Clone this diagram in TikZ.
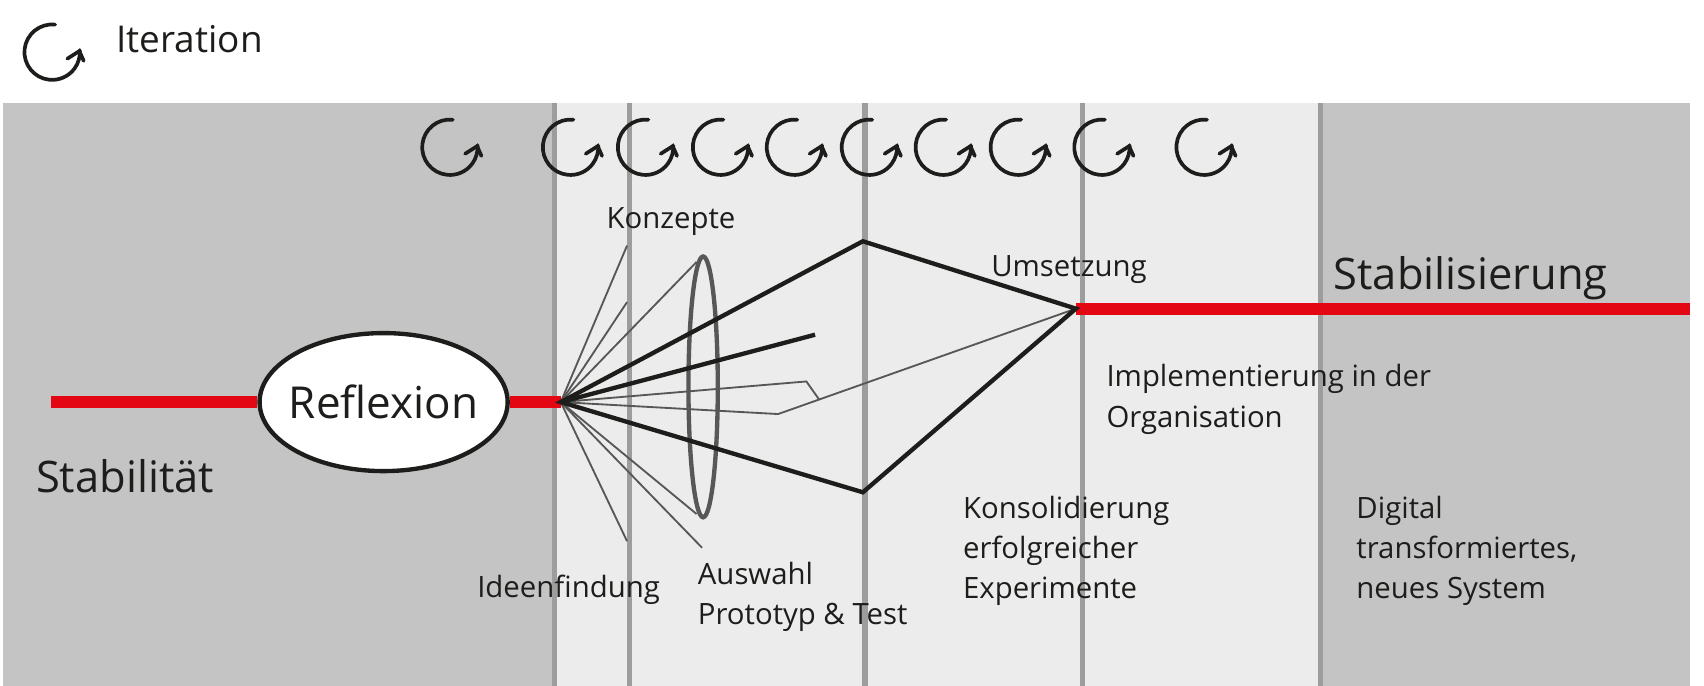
\documentclass[tikz,border=0pt]{standalone}
\usepackage{fontspec}
\setmainfont{Open Sans}
\usepackage{xcolor}
\usetikzlibrary{shapes.geometric,positioning}
\definecolor{hellgrau}{HTML}{ECECEC}
\definecolor{mittelgrau}{HTML}{C4C4C4}
\definecolor{strichgrau}{HTML}{9D9D9D}
\definecolor{fanblack}{HTML}{1D1D1B}
\definecolor{thingrau}{HTML}{575756}
\definecolor{rot}{HTML}{E30613}
\tikzset{
    trennlinie/.style={strichgrau, line width=5},
    rotlinie/.style={rot, line width=11},
    dick/.style={fanblack, line width=4, line join=miter},
    duenn/.style={thingrau, line width=1.7},
    labeltext/.style={text=fanblack, anchor=base west, align=left, inner sep=0, font=\fontsize{27}{37}\selectfont},
    grosstext/.style={text=fanblack, anchor=base west, inner sep=0, font=\fontsize{40}{46}\selectfont},
    iterloop/.pic={
        \draw[fanblack, line width=3.4, line cap=round] (84:25.5) arc (84:364:25.5);
        \draw[fanblack, line width=3.4, line cap=round, line join=miter] (14,-6) -- (25,1) -- (29,-8);
    }
}
\begin{document}
\begin{tikzpicture}[x=1pt, y=1pt]
    \useasboundingbox (0,0) rectangle (1568,-631);
    % Hintergrund
    \fill[mittelgrau] (3,-95) rectangle (1555,-631);
    \fill[hellgrau] (510,-95) rectangle (1215,-631);
    \foreach \xpos in {510,579,796,996,1215}
        \draw[trennlinie] (\xpos,-95) -- (\xpos,-631);

    % Iterationen
    \pic at (48,-48) {iterloop};
    \node[labeltext, font=\fontsize{34}{37}\selectfont] (iteration) at (107,-48) {Iteration};
    \foreach \xpos in {414,525,594,663,731,800,868,937,1014,1108}
        \pic at (\xpos,-135.5) {iterloop};

    % Knoten
    \coordinate (fan) at (516,-370);
    \coordinate (start) at (47,-370);
    \coordinate (top) at (794,-222);
    \coordinate (bottom) at (794,-453);
    \coordinate (goal) at (990,-284);
    \coordinate (finish) at (1555,-284);
    \node[draw=thingrau, line width=4, ellipse, minimum width=27, minimum height=240, inner sep=0] (lens) at (647,-356) {};
    \node[draw=fanblack, line width=4, fill=white, ellipse, minimum height=127, inner xsep=-6.5, inner ysep=0, font=\fontsize{40.5}{46}\selectfont, text=fanblack] (reflexion) at (353,-370) {Reflexion};

    % Rote Linien
    \draw[rotlinie] (start) -- (reflexion);
    \draw[rotlinie] (reflexion) -- (fan);
    \draw[rotlinie] (goal) -- (finish);

    % Duenne Linien
    \foreach \xend/\yend in {577/226,577/278,641/241,641/473,646/504,577/498}
        \draw[duenn] (fan) -- (\xend,-\yend);
    \draw[duenn] (fan) -- (742,-351) -- (754,-368);
    \draw[duenn] (fan) -- (716,-381) -- (goal);

    % Dicke Linien
    \draw[dick] (fan) -- (top) -- (goal) -- (bottom) -- cycle;
    \draw[dick] (fan) -- (750,-308);

    % Beschriftung
    \node[grosstext] (stabilitaet) at (33,-453) {Stabilität};
    \node[grosstext] (stabilisierung) at (1227,-266) {Stabilisierung};
    \node[labeltext] (konzepte) at (558,-210) {Konzepte};
    \node[labeltext] (umsetzung) at (912,-254) {Umsetzung};
    \node[labeltext] (implementierung) at (1018,-393) {Implementierung in der\\Organisation};
    \node[labeltext] (konsolidierung) at (886,-551) {Konsolidierung\\erfolgreicher\\Experimente};
    \node[labeltext] (digital) at (1248,-551) {Digital\\transformiertes,\\neues System};
    \node[labeltext] (ideenfindung) at (439,-550) {Ideenfindung};
    \node[labeltext] (auswahl) at (642,-575) {Auswahl\\Prototyp \& Test};
\end{tikzpicture}
\end{document}
